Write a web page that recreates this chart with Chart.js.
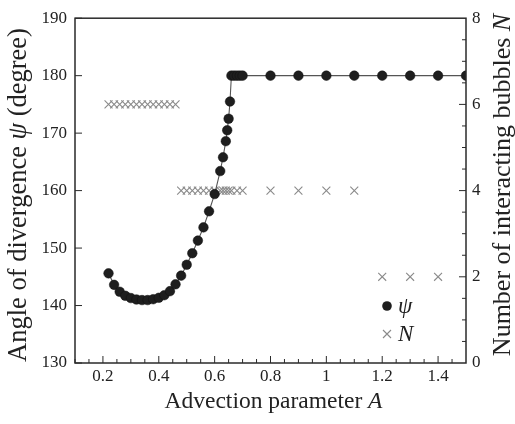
<!DOCTYPE html>
<html>
<head>
<meta charset="utf-8">
<script src="https://cdn.jsdelivr.net/npm/chart.js@4.4.1/dist/chart.umd.min.js"></script>
<style>
  html, body { margin: 0; padding: 0; background: #fff; }
  #wrap { width: 515px; height: 424px; }
</style>
</head>
<body>
<div id="wrap"><canvas id="myChart" width="515" height="424"></canvas></div>
<script>
// angle of divergence psi (degree) against advection parameter A
const psiA = [0.22, 0.24, 0.26, 0.28, 0.30, 0.32, 0.34, 0.36, 0.38, 0.40,
              0.42, 0.44, 0.46, 0.48, 0.50, 0.52, 0.54, 0.56, 0.58, 0.60,
              0.62, 0.63, 0.64, 0.645, 0.65, 0.655,
              0.66, 0.67, 0.68, 0.69, 0.70,
              0.8, 0.9, 1.0, 1.1, 1.2, 1.3, 1.4, 1.5];
const psiVals = [145.6, 143.6, 142.4, 141.7, 141.3, 141.05, 140.95, 140.95, 141.1, 141.35,
                 141.8, 142.5, 143.7, 145.2, 147.1, 149.1, 151.3, 153.6, 156.4, 159.4,
                 163.4, 165.8, 168.6, 170.5, 172.5, 175.5,
                 180, 180, 180, 180, 180,
                 180, 180, 180, 180, 180, 180, 180, 180];

// number of interacting bubbles N
const nA = [0.22, 0.24, 0.26, 0.28, 0.30, 0.32, 0.34, 0.36, 0.38, 0.40, 0.42, 0.44, 0.46,
            0.48, 0.50, 0.52, 0.54, 0.56, 0.58, 0.60, 0.62, 0.63, 0.64, 0.65, 0.66, 0.68, 0.70,
            0.8, 0.9, 1.0, 1.1,
            1.2, 1.3, 1.4];
const nVals = [6, 6, 6, 6, 6, 6, 6, 6, 6, 6, 6, 6, 6,
               4, 4, 4, 4, 4, 4, 4, 4, 4, 4, 4, 4, 4, 4,
               4, 4, 4, 4,
               2, 2, 2];

// tick labels
const xTicks = [0.2, 0.4, 0.6, 0.8, 1, 1.2, 1.4];
const leftTicks = [130, 140, 150, 160, 170, 180, 190];
const rightTicks = [0, 2, 4, 6, 8];

const serif = '"Liberation Serif", "DejaVu Serif", serif';
const ink = '#222';

function pts(xs, ys) {
  return xs.map((v, i) => ({ x: v, y: ys[i] }));
}

function fmt(v) {
  return String(Math.round(v * 10) / 10);
}

// writes a string made of plain and italic parts, centred on (cx, cy)
function richText(ctx, parts, cx, cy, size, angle) {
  ctx.save();
  ctx.translate(cx, cy);
  ctx.rotate(angle);
  let total = 0;
  parts.forEach(p => {
    ctx.font = (p.it ? 'italic ' : '') + size + 'px ' + serif;
    p.w = ctx.measureText(p.t).width;
    total += p.w;
  });
  let x = -total / 2;
  ctx.textBaseline = 'middle';
  ctx.textAlign = 'left';
  ctx.fillStyle = ink;
  parts.forEach(p => {
    ctx.font = (p.it ? 'italic ' : '') + size + 'px ' + serif;
    ctx.fillText(p.t, x, 0);
    x += p.w;
  });
  ctx.restore();
}

const frame = {
  id: 'frame',
  afterDraw(chart) {
    const ctx = chart.ctx, a = chart.chartArea;
    const sx = chart.scales.x, sy = chart.scales.y, sy2 = chart.scales.y2;
    ctx.save();
    ctx.strokeStyle = '#2a2a2a';
    ctx.lineWidth = 1.5;
    ctx.strokeRect(a.left, a.top, a.right - a.left, a.bottom - a.top);

    // inward ticks
    ctx.lineWidth = 1;
    ctx.beginPath();
    for (let k = 2; k < 30; k++) {
      const px = sx.getPixelForValue(k * 0.05);
      const len = (k % 4 === 0) ? 7 : 4;
      ctx.moveTo(px, a.bottom);
      ctx.lineTo(px, a.bottom - len);
    }
    leftTicks.forEach(v => {
      const py = sy.getPixelForValue(v);
      ctx.moveTo(a.left, py);
      ctx.lineTo(a.left + 7, py);
    });
    for (let k = 1; k < 16; k++) {
      const py = sy2.getPixelForValue(k * 0.5);
      const len = (k % 4 === 0) ? 7 : 4;
      ctx.moveTo(a.right, py);
      ctx.lineTo(a.right - len, py);
    }
    ctx.stroke();

    // axis titles
    richText(ctx, [{ t: 'Advection parameter ' }, { t: 'A', it: true }],
      (a.left + a.right) / 2 + 3, 402, 23.5, 0);
    richText(ctx, [{ t: 'Angle of divergence ' }, { t: 'ψ', it: true }, { t: ' (degree)' }],
      19, 195, 26.5, -Math.PI / 2);
    richText(ctx, [{ t: 'Number of interacting bubbles ' }, { t: 'N', it: true }],
      503, 185, 26, -Math.PI / 2);

    // legend
    ctx.fillStyle = '#1e1e1e';
    ctx.beginPath();
    ctx.arc(387, 306, 4.8, 0, Math.PI * 2);
    ctx.fill();
    ctx.strokeStyle = '#8a8a8a';
    ctx.lineWidth = 1.1;
    ctx.beginPath();
    ctx.moveTo(383, 330); ctx.lineTo(391, 338);
    ctx.moveTo(391, 330); ctx.lineTo(383, 338);
    ctx.stroke();
    ctx.fillStyle = ink;
    ctx.font = 'italic 23px ' + serif;
    ctx.textBaseline = 'middle';
    ctx.fillText('ψ', 398, 307);
    ctx.fillText('N', 398, 335);
    ctx.restore();
  }
};

const ctx = document.getElementById('myChart').getContext('2d');

const myChart = new Chart(ctx, {
  type: 'scatter',
  data: {
    datasets: [{
      label: 'ψ',
      data: pts(psiA, psiVals),
      yAxisID: 'y',
      showLine: true,
      borderColor: '#555',
      borderWidth: 1.1,
      pointStyle: 'circle',
      pointRadius: 4.8,
      pointBackgroundColor: '#1e1e1e',
      pointBorderColor: '#111',
      pointBorderWidth: 0.5
    }, {
      label: 'N',
      data: pts(nA, nVals),
      yAxisID: 'y2',
      showLine: false,
      pointStyle: 'crossRot',
      pointRadius: 5.6,
      pointBorderColor: '#8a8a8a',
      pointBorderWidth: 1.1
    }]
  },
  options: {
    responsive: false,
    devicePixelRatio: 1,
    animation: false,
    layout: { padding: { top: 14, left: 0, right: 0, bottom: 0 } },
    plugins: { legend: { display: false }, tooltip: { enabled: false } },
    scales: {
      x: {
        type: 'linear', min: 0.1, max: 1.5,
        grid: { display: false, drawTicks: false },
        border: { display: false },
        afterBuildTicks: s => { s.ticks = xTicks.map(v => ({ value: v })); },
        afterFit: s => { s.height = 61; },
        ticks: { callback: v => fmt(v), padding: 3, color: ink, font: { family: serif, size: 17 }, maxRotation: 0 }
      },
      y: {
        type: 'linear', position: 'left', min: 130, max: 190,
        grid: { display: false, drawTicks: false },
        border: { display: false },
        afterBuildTicks: s => { s.ticks = leftTicks.map(v => ({ value: v })); },
        afterFit: s => { s.width = 75; },
        ticks: { padding: 8, color: ink, font: { family: serif, size: 17 } }
      },
      y2: {
        type: 'linear', position: 'right', min: 0, max: 8,
        grid: { display: false, drawTicks: false },
        border: { display: false },
        afterBuildTicks: s => { s.ticks = rightTicks.map(v => ({ value: v })); },
        afterFit: s => { s.width = 49; },
        ticks: { padding: 6, color: ink, font: { family: serif, size: 17 } }
      }
    }
  },
  plugins: [frame]
});
</script>
</body>
</html>
